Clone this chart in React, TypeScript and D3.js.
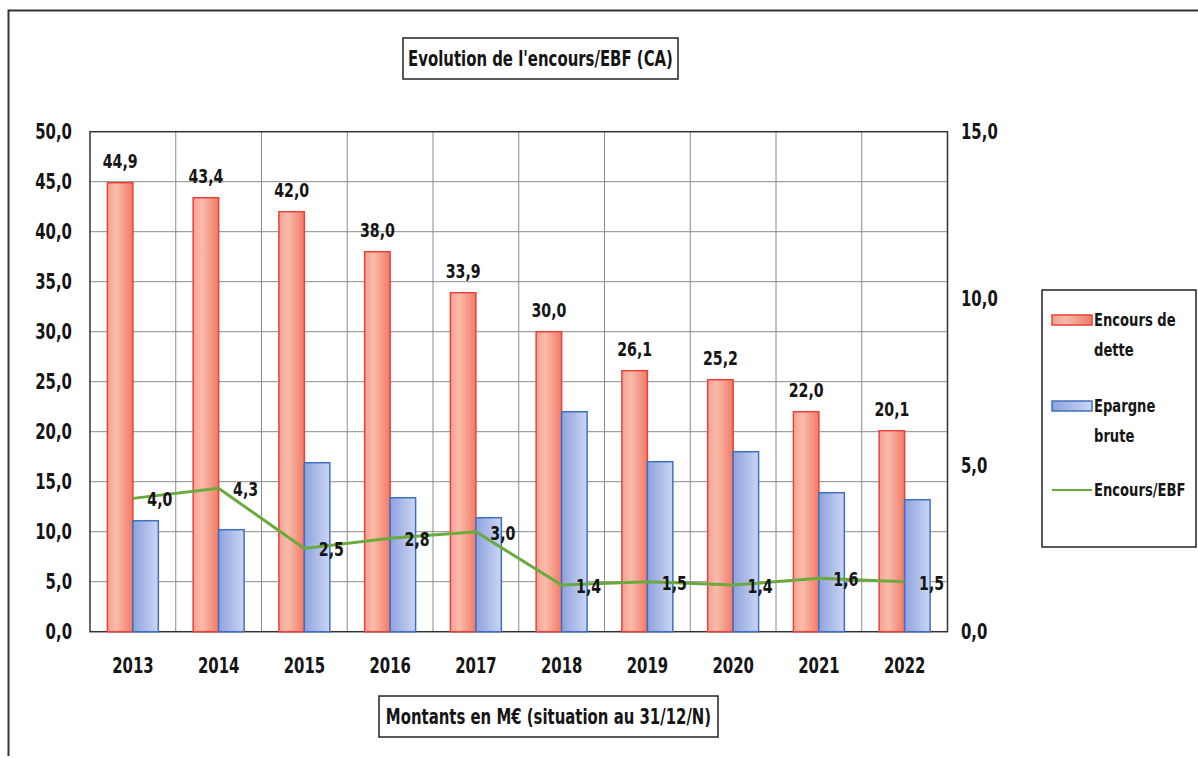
import React, { useEffect, useRef } from 'react';
import * as d3 from 'd3';

// valeurs
const years = ['2013', '2014', '2015', '2016', '2017', '2018', '2019', '2020', '2021', '2022'];
const encoursDette = [44.9, 43.4, 42.0, 38.0, 33.9, 30.0, 26.1, 25.2, 22.0, 20.1];
const epargneBrute = [11.1, 10.2, 16.9, 13.4, 11.4, 22.0, 17.0, 18.0, 13.9, 13.2];
const encoursEbf = [4.0, 4.3, 2.5, 2.8, 3.0, 1.4, 1.5, 1.4, 1.6, 1.5];
const leftTicks = [0, 5, 10, 15, 20, 25, 30, 35, 40, 45, 50];
const rightTicks = [0, 5, 10, 15];
const legendItems = [
    { key: 'encours', lines: ['Encours de', 'dette'] },
    { key: 'epargne', lines: ['Epargne', 'brute'] },
    { key: 'ratio', lines: ['Encours/EBF'] },
];

const FONT = "'DejaVu Sans', sans-serif";
const SX = 0.71; // texte étroit façon Calibri
const fmt = (v: number) => v.toFixed(1).replace('.', ',');

const App: React.FC = () => {
    const chartRef = useRef<SVGSVGElement | null>(null);

    useEffect(() => {
        if (!chartRef.current) return;
        const svg = d3.select(chartRef.current);
        svg.selectAll('*').remove();

        const width = 1198;
        const height = 758;
        const plot = { left: 90, right: 947.5, top: 131.7, bottom: 631.7 };

        const x = d3.scaleBand<string>().domain(years).range([plot.left, plot.right]).padding(0);
        const y = d3.scaleLinear().domain([0, 50]).range([plot.bottom, plot.top]);
        const y2 = d3.scaleLinear().domain([0, 15]).range([plot.bottom, plot.top]);
        const barW = x.bandwidth() * 0.297;
        const center = (d: string) => (x(d) as number) + x.bandwidth() / 2;
        const tr = (px: number, py: number) => `translate(${px},${py}) scale(${SX},1)`;

        const textStyle = (sel: any, size = 21) =>
            sel.style('font-family', FONT).style('font-weight', 'bold').style('font-size', `${size}px`)
                .attr('dominant-baseline', 'central').attr('fill', '#151515');

        const defs = svg.append('defs');
        const redGrad = defs.append('linearGradient').attr('id', 'gradRed');
        redGrad.append('stop').attr('offset', '0%').attr('stop-color', '#f5a190');
        redGrad.append('stop').attr('offset', '35%').attr('stop-color', '#f9bcab');
        redGrad.append('stop').attr('offset', '100%').attr('stop-color', '#f27a65');
        const blueGrad = defs.append('linearGradient').attr('id', 'gradBlue');
        blueGrad.append('stop').attr('offset', '0%').attr('stop-color', '#8ea2dd');
        blueGrad.append('stop').attr('offset', '100%').attr('stop-color', '#cbd6f4');

        svg.append('rect').attr('width', width).attr('height', height).attr('fill', '#fff');

        // cadre extérieur
        svg.append('path')
            .attr('d', `M8.5,${height - 2} V10.5 H${width + 5}`)
            .attr('fill', 'none')
            .attr('stroke', '#333')
            .attr('stroke-width', 2);

        // titre
        svg.append('rect')
            .attr('x', 403).attr('y', 38).attr('width', 275).attr('height', 41)
            .attr('fill', '#fff').attr('stroke', '#222').attr('stroke-width', 1.5);
        svg.append('text')
            .attr('transform', tr(540.5, 59))
            .attr('text-anchor', 'middle')
            .call(textStyle, 21)
            .text("Evolution de l'encours/EBF (CA)");

        const g = svg.append('g');

        // grille
        g.selectAll('.hgrid')
            .data(leftTicks.slice(1, -1))
            .enter()
            .append('line')
            .attr('x1', plot.left).attr('x2', plot.right)
            .attr('y1', (d) => y(d)).attr('y2', (d) => y(d))
            .attr('stroke', '#8a8a8a').attr('stroke-width', 1);
        g.selectAll('.vgrid')
            .data(years.slice(1))
            .enter()
            .append('line')
            .attr('x1', (d) => x(d) as number).attr('x2', (d) => x(d) as number)
            .attr('y1', plot.top).attr('y2', plot.bottom)
            .attr('stroke', '#8a8a8a').attr('stroke-width', 1);
        g.append('rect')
            .attr('x', plot.left).attr('y', plot.top)
            .attr('width', plot.right - plot.left).attr('height', plot.bottom - plot.top)
            .attr('fill', 'none').attr('stroke', '#333').attr('stroke-width', 1.5);

        // barres
        g.selectAll('.bar-red')
            .data(years)
            .enter()
            .append('rect')
            .attr('x', (d) => center(d) - barW)
            .attr('y', (_d, i) => y(encoursDette[i]))
            .attr('width', barW)
            .attr('height', (_d, i) => plot.bottom - y(encoursDette[i]))
            .attr('fill', 'url(#gradRed)')
            .attr('stroke', '#e8403a').attr('stroke-width', 1.5);
        g.selectAll('.bar-blue')
            .data(years)
            .enter()
            .append('rect')
            .attr('x', (d) => center(d))
            .attr('y', (_d, i) => y(epargneBrute[i]))
            .attr('width', barW)
            .attr('height', (_d, i) => plot.bottom - y(epargneBrute[i]))
            .attr('fill', 'url(#gradBlue)')
            .attr('stroke', '#3f70bf').attr('stroke-width', 1.5);

        g.selectAll('.lbl-red')
            .data(years)
            .enter()
            .append('text')
            .attr('transform', (d, i) => tr(center(d) - barW / 2, y(encoursDette[i]) - 22))
            .attr('text-anchor', 'middle')
            .call(textStyle, 20)
            .text((_d, i) => fmt(encoursDette[i]));

        // ligne encours/EBF
        const line = d3.line<number>()
            .x((_d, i) => center(years[i]))
            .y((d) => y2(d));
        g.append('path')
            .datum(encoursEbf)
            .attr('d', line)
            .attr('fill', 'none')
            .attr('stroke', '#6aaa3c')
            .attr('stroke-width', 3);
        g.selectAll('.lbl-line')
            .data(years)
            .enter()
            .append('text')
            .attr('transform', (d, i) => tr(center(d) + 27, y2(encoursEbf[i]) + 1))
            .attr('text-anchor', 'middle')
            .call(textStyle, 20)
            .text((_d, i) => fmt(encoursEbf[i]));

        // axes
        g.selectAll('.tick-left')
            .data(leftTicks)
            .enter()
            .append('text')
            .attr('transform', (d) => tr(72, y(d)))
            .attr('text-anchor', 'end')
            .call(textStyle, 21)
            .text((d) => fmt(d));
        g.selectAll('.tick-right')
            .data(rightTicks)
            .enter()
            .append('text')
            .attr('transform', (d) => tr(961, y2(d)))
            .attr('text-anchor', 'start')
            .call(textStyle, 21)
            .text((d) => fmt(d));
        g.selectAll('.tick-x')
            .data(years)
            .enter()
            .append('text')
            .attr('transform', (d) => tr(center(d), 666))
            .attr('text-anchor', 'middle')
            .call(textStyle, 21)
            .text((d) => d);

        // sous-titre
        svg.append('rect')
            .attr('x', 379).attr('y', 696).attr('width', 339).attr('height', 41)
            .attr('fill', '#fff').attr('stroke', '#222').attr('stroke-width', 1.5);
        svg.append('text')
            .attr('transform', tr(548.5, 717))
            .attr('text-anchor', 'middle')
            .call(textStyle, 21)
            .text('Montants en M€ (situation au 31/12/N)');

        // légende
        const lg = svg.append('g');
        lg.append('rect')
            .attr('x', 1042).attr('y', 290).attr('width', 154).attr('height', 257)
            .attr('fill', '#fff').attr('stroke', '#222').attr('stroke-width', 1.5);
        const itemY = [320, 406, 490];
        legendItems.forEach((item, i) => {
            if (item.key === 'ratio') {
                lg.append('line')
                    .attr('x1', 1052).attr('x2', 1092)
                    .attr('y1', itemY[i]).attr('y2', itemY[i])
                    .attr('stroke', '#6aaa3c').attr('stroke-width', 2);
            } else {
                lg.append('rect')
                    .attr('x', 1052).attr('y', itemY[i] - 5).attr('width', 40).attr('height', 10)
                    .attr('fill', item.key === 'encours' ? 'url(#gradRed)' : 'url(#gradBlue)')
                    .attr('stroke', item.key === 'encours' ? '#e8403a' : '#3f70bf').attr('stroke-width', 1.5);
            }
            item.lines.forEach((t, j) => {
                lg.append('text')
                    .attr('transform', tr(1094, itemY[i] + j * 30))
                    .call(textStyle, 18.5)
                    .text(t);
            });
        });
    }, []);

    return (
        <svg
            ref={chartRef}
            width={1198}
            height={758}
            style={{ position: 'absolute', left: 0, top: 0, display: 'block' }}
        />
    );
};

export default App;
